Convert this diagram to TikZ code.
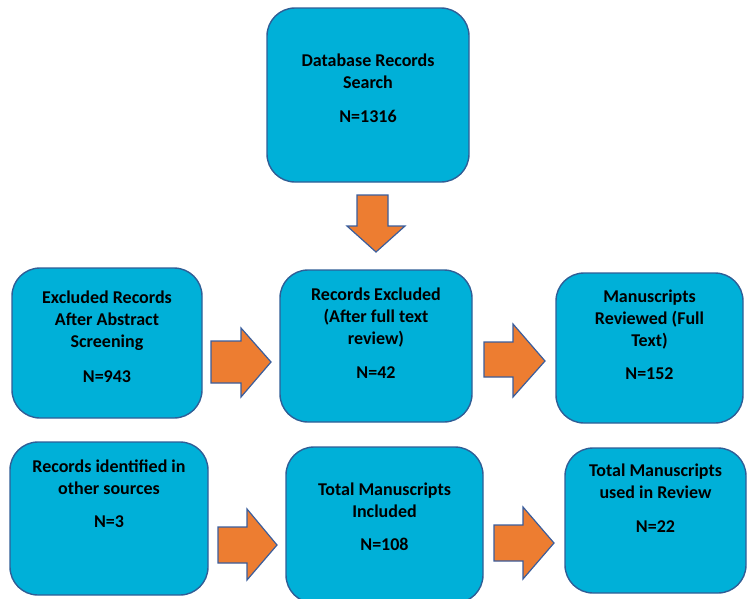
\documentclass[tikz,border=0pt]{standalone}
\usepackage{fontspec}
\setmainfont{Carlito}
\definecolor{boxfill}{HTML}{00B0D8}
\definecolor{boxline}{HTML}{2F5E96}
\definecolor{arrfill}{HTML}{ED7D31}
\definecolor{arrline}{HTML}{3A5D9C}
\tikzset{
  box/.style={draw=boxline, fill=boxfill, line width=1.4pt, rounded corners=28pt, inner sep=0pt},
  txt/.style={anchor=north, align=center, inner sep=0pt, font=\bfseries\fontsize{18}{22}\selectfont, text=black},
  fat/.style={draw=arrline, fill=arrfill, line width=1.2pt, line join=miter}
}
\begin{document}
\begin{tikzpicture}[x=1pt,y=-1pt]
\useasboundingbox (0,0) rectangle (748,598);
\begin{scope}
\clip (0,0) rectangle (748,598);
% boxes
\node[box, minimum width=202pt, minimum height=174pt] (b1) at (368,95) {};
\node[box, minimum width=190pt, minimum height=150pt] (b2) at (107,343) {};
\node[box, minimum width=192pt, minimum height=152pt] (b3) at (376,346) {};
\node[box, minimum width=187pt, minimum height=150pt] (b4) at (649.5,348) {};
\node[box, minimum width=198pt, minimum height=153pt] (b5) at (109,518.5) {};
\node[box, minimum width=197pt, minimum height=156pt] (b6) at (384.5,525) {};
\node[box, minimum width=181pt, minimum height=145pt] (b7) at (655.5,520.5) {};
\end{scope}
% texts
\node[txt] (t1) at (368,54) {Database Records\\Search\\[12pt]N=1316};
\node[txt] (t2) at (107,291) {Excluded Records\\After Abstract\\Screening\\[13pt]N=943};
\node[txt] (t3) at (376,288) {Records Excluded\\(After full text\\review)\\[12pt]N=42};
\node[txt] (t4) at (649.5,290) {Manuscripts\\Reviewed (Full\\Text)\\[11pt]N=152};
\node[txt] (t5) at (109,460) {Records identified in\\other sources\\[11pt]N=3};
\node[txt] (t6) at (384.5,483) {Total Manuscripts\\Included\\[11pt]N=108};
\node[txt] (t7) at (655.5,464) {Total Manuscripts\\used in Review\\[12pt]N=22};
% block arrows
\draw[fat] (357,195) -- (388,195) -- (388,226) -- (405,226) -- (376,252) -- (347,226) -- (357,226) -- cycle;
\draw[fat] (211,341) -- (241,341) -- (241,328) -- (271,362) -- (241,397) -- (241,383) -- (211,383) -- cycle;
\draw[fat] (484,342) -- (513,342) -- (513,324) -- (545,361) -- (513,397) -- (513,377) -- (484,377) -- cycle;
\draw[fat] (218,527) -- (247,527) -- (247,509) -- (277,545) -- (247,580) -- (247,563) -- (218,563) -- cycle;
\draw[fat] (494,525) -- (523,525) -- (523,507) -- (554,543) -- (523,579) -- (523,561) -- (494,561) -- cycle;
\end{tikzpicture}
\end{document}
